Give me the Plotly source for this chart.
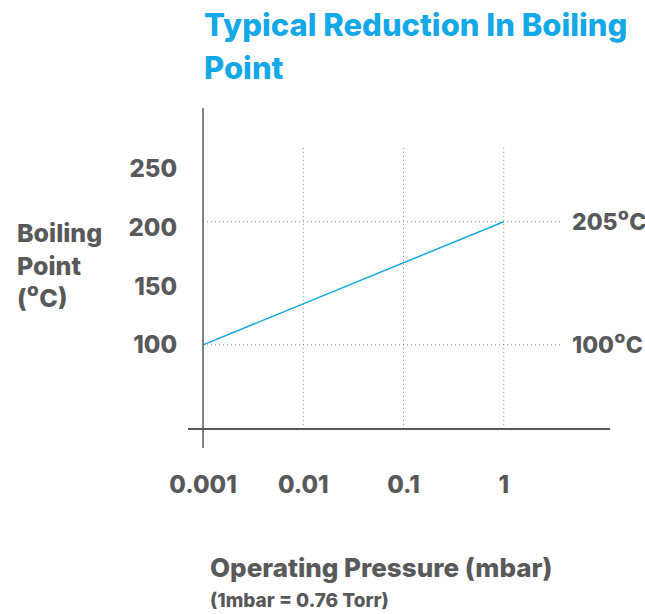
import plotly.graph_objects as go

# Boiling point vs operating pressure (log scale)
pressure_mbar = [0.001, 1]
boiling_c = [100, 205]

x_tick_vals = [0.001, 0.01, 0.1, 1]
x_tick_text = ["0.001", "0.01", "0.1", "1"]
y_tick_vals = [100, 150, 200, 250]
y_tick_text = ["100", "150", "200", "250"]

ref_temps = [205, 100]

BLUE = "#14a8e6"
GREY = "#58595b"
DOT = "#8a8a8a"
FONT = "Inter"
W = 800

X_RANGE = [-3.15, 1.06]     # log10 units
Y_RANGE = [12, 302]
AXIS_Y = 28.3               # where the pressure axis crosses
DOT_TOP = 270
DOT_RIGHT = 3.88

fig = go.Figure()

fig.add_trace(go.Scatter(
    x=pressure_mbar, y=boiling_c, mode="lines",
    line=dict(color=BLUE, width=1.5), hoverinfo="skip", showlegend=False,
))

shapes = []
# vertical dotted guides at each decade
for xv in x_tick_vals[1:]:
    shapes.append(dict(type="line", xref="x", yref="y", x0=xv, x1=xv,
                       y0=AXIS_Y, y1=DOT_TOP,
                       line=dict(color=DOT, width=1, dash="1px,3px")))
# horizontal dotted guides at the reference temperatures
for t in ref_temps:
    shapes.append(dict(type="line", xref="x", yref="y", x0=x_tick_vals[0], x1=DOT_RIGHT,
                       y0=t, y1=t, line=dict(color=DOT, width=1, dash="1px,3px")))
# main axes lines
shapes.append(dict(type="line", xref="x", yref="paper", x0=x_tick_vals[0], x1=x_tick_vals[0],
                   y0=0, y1=1, line=dict(color=GREY, width=1.5)))
shapes.append(dict(type="line", xref="paper", yref="y", x0=0, x1=1,
                   y0=AXIS_Y, y1=AXIS_Y, line=dict(color=GREY, width=2)))

annotations = []
for t in ref_temps:
    annotations.append(dict(xref="paper", yref="y", x=0.905, y=t, xanchor="left",
                            yanchor="middle", text=f"{t}⁰C", showarrow=False,
                            font=dict(family=FONT, size=23, color=GREY, weight=W)))

# chart title (two lines)
annotations.append(dict(xref="paper", yref="paper", x=0.033, y=1.245, xanchor="left",
                        yanchor="middle", text="Typical Reduction In Boiling", showarrow=False,
                        font=dict(family=FONT, size=31, color=BLUE, weight=W)))
annotations.append(dict(xref="paper", yref="paper", x=0.033, y=1.12, xanchor="left",
                        yanchor="middle", text="Point", showarrow=False,
                        font=dict(family=FONT, size=31, color=BLUE, weight=W)))

# y axis title
annotations.append(dict(xref="paper", yref="paper", x=-0.41, y=0.538, xanchor="left",
                        yanchor="middle", align="left",
                        text="Boiling<br>Point<br>(⁰C)", showarrow=False,
                        font=dict(family=FONT, size=25, color=GREY, weight=W)))

# x axis title and note
annotations.append(dict(xref="paper", yref="paper", x=0.048, y=-0.35, xanchor="left",
                        yanchor="middle", text="Operating Pressure (mbar)", showarrow=False,
                        font=dict(family=FONT, size=26, color=GREY, weight=W)))
annotations.append(dict(xref="paper", yref="paper", x=0.048, y=-0.448, xanchor="left",
                        yanchor="middle", text="(1mbar = 0.76 Torr)", showarrow=False,
                        font=dict(family=FONT, size=19, color=GREY, weight=W)))

fig.update_layout(
    width=645, height=614,
    margin=dict(l=188, r=35, t=108, b=166),
    paper_bgcolor="white", plot_bgcolor="white",
    shapes=shapes, annotations=annotations,
    xaxis=dict(type="log", range=X_RANGE, tickvals=x_tick_vals, ticktext=x_tick_text,
               showgrid=False, zeroline=False, showline=False, ticks="",
               ticklabelstandoff=20,
               tickfont=dict(family=FONT, size=24, color=GREY, weight=W)),
    yaxis=dict(range=Y_RANGE, tickvals=y_tick_vals, ticktext=y_tick_text,
               showgrid=False, zeroline=False, showline=False, ticks="",
               ticklabelstandoff=10,
               tickfont=dict(family=FONT, size=24, color=GREY, weight=W)),
)

fig.write_html("out.html")
